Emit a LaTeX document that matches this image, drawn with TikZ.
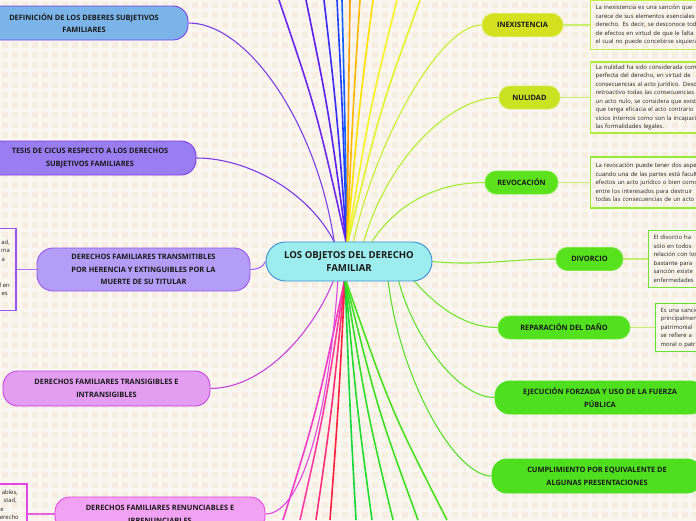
\documentclass[tikz,border=0pt]{standalone}
\usepackage{fontspec}
\setmainfont{Open Sans}
\definecolor{bgc}{HTML}{F6EEE1}
\definecolor{gridc}{HTML}{FBF7F0}
\definecolor{ctrF}{HTML}{9EEDEE}
\definecolor{ctrB}{HTML}{3A8ED4}
\definecolor{defF}{HTML}{7AB4E8}
\definecolor{defB}{HTML}{7B3FE8}
\definecolor{tesF}{HTML}{9B7DF2}
\definecolor{tesB}{HTML}{7A3CE6}
\definecolor{traF}{HTML}{B39DF6}
\definecolor{traB}{HTML}{9A55F0}
\definecolor{tgF}{HTML}{E39EF2}
\definecolor{tgB}{HTML}{C443E2}
\definecolor{reF}{HTML}{F2A2F2}
\definecolor{reB}{HTML}{E245E6}
\definecolor{inF}{HTML}{D4E11E}
\definecolor{inB}{HTML}{D9EC55}
\definecolor{nuF}{HTML}{CBE222}
\definecolor{nuB}{HTML}{D2EC50}
\definecolor{rvF}{HTML}{5BE21C}
\definecolor{rvB}{HTML}{78EA42}
\definecolor{dvF}{HTML}{58E21E}
\definecolor{rpF}{HTML}{52E11E}
\definecolor{ejF}{HTML}{4EE01E}
\definecolor{cInB}{HTML}{BEF040}
\definecolor{cNuB}{HTML}{AEEE38}
\definecolor{cRvB}{HTML}{96EC34}
\definecolor{cDvB}{HTML}{72E632}
\definecolor{cRpB}{HTML}{62E230}
\definecolor{tA}{HTML}{6A28F0}
\definecolor{tB}{HTML}{5A20F0}
\definecolor{tC}{HTML}{3A2CF8}
\definecolor{tD}{HTML}{2040FF}
\definecolor{tE}{HTML}{1062FF}
\definecolor{tF}{HTML}{FF9A00}
\definecolor{tG}{HTML}{FFB800}
\definecolor{tH}{HTML}{FFE000}
\definecolor{tI}{HTML}{F6F422}
\definecolor{tJ}{HTML}{E2F42A}
\definecolor{bA}{HTML}{F03CC8}
\definecolor{bB}{HTML}{FF3CA0}
\definecolor{bC}{HTML}{FF2E78}
\definecolor{bD}{HTML}{FF2040}
\definecolor{bE}{HTML}{14D83A}
\definecolor{bF}{HTML}{22DC30}
\definecolor{bG}{HTML}{32DE28}
\definecolor{bH}{HTML}{3EE024}
\definecolor{bI}{HTML}{4AE020}
\definecolor{kDef}{HTML}{7B3FE8}
\definecolor{kTes}{HTML}{7A3CE6}
\definecolor{kTra}{HTML}{A060F0}
\definecolor{kTra2}{HTML}{B070F2}
\definecolor{kTg}{HTML}{C444E2}
\definecolor{kRe}{HTML}{E044E2}
\definecolor{kRe2}{HTML}{E860E8}
\definecolor{kIn}{HTML}{C8EE30}
\definecolor{kNu}{HTML}{B8EE30}
\definecolor{kRv}{HTML}{A0EC30}
\definecolor{kDv}{HTML}{84E830}
\definecolor{kRp}{HTML}{72E430}
\definecolor{kEj}{HTML}{62E030}
\definecolor{kCu}{HTML}{5ADE30}
\definecolor{kSm}{HTML}{C8F070}
\pgfdeclarelayer{back}
\pgfdeclarelayer{mid}
\pgfsetlayers{back,mid,main}
\begin{document}
\begin{tikzpicture}[x=1pt,y=-1pt,
  nodetext/.style={font=\fontsize{7.4}{12.8}\selectfont\bfseries, align=center, text=black!90, line width=0.9pt, inner sep=0pt},
  pill/.style={nodetext, minimum height=23, rounded corners=11.5},
  bigbox/.style={nodetext, rounded corners=12},
  tbox/.style={font=\fontsize{5.9}{8.5}\selectfont, align=left, text=black!85, line width=1.3pt, inner xsep=5pt, inner ysep=0pt, text width=200pt, anchor=west},
  lbox/.style={line width=1.3pt, inner sep=0pt},
  frag/.style={font=\fontsize{5.9}{8.5}\selectfont, text=black!85, inner sep=0pt, anchor=base east},
  conn/.style={line width=1.1pt},
  rad/.style={line width=1.6pt}
]
\begin{pgfonlayer}{back}
\fill[bgc] (0,0) rectangle (696,520);
\foreach \g in {0,10,...,700} {\draw[gridc, line width=3.5pt] (\g,0) -- (\g,520);}
\foreach \g in {0,10,...,520} {\draw[gridc, line width=3.5pt] (0,\g) -- (696,\g);}
\end{pgfonlayer}

% nodes
\node[nodetext, font=\fontsize{9.6}{13.5}\selectfont\bfseries, fill=ctrF, draw=ctrB, minimum width=166, minimum height=39, rounded corners=19.5] (ctr) at (349,261.5) {LOS OBJETOS DEL DERECHO\\FAMILIAR};

\node[bigbox, fill=defF, draw=defB, minimum width=208, minimum height=34, rounded corners=15] (def) at (84,23) {DEFINICIÓN DE LOS DEBERES SUBJETIVOS\\FAMILIARES};
\node[bigbox, fill=tesF, draw=tesB, minimum width=212, minimum height=34, rounded corners=15] (tes) at (90,158) {TESIS DE CICUS RESPECTO A LOS DERECHOS\\SUBJETIVOS FAMILIARES};
\node[bigbox, fill=traF, draw=traB, minimum width=213, minimum height=43, rounded corners=16] (tra) at (143.5,269.5) {DERECHOS FAMILIARES TRANSMITIBLES\\POR HERENCIA Y EXTINGUIBLES POR LA\\MUERTE DE SU TITULAR};
\node[bigbox, fill=tgF, draw=tgB, minimum width=207, minimum height=35, rounded corners=15] (tg) at (106.5,388.5) {DERECHOS FAMILIARES TRANSIGIBLES E\\INTRANSIGIBLES};
\node[bigbox, fill=reF, draw=reB, minimum width=210, minimum height=34, rounded corners=15] (re) at (160,514) {DERECHOS FAMILIARES RENUNCIABLES E\\IRRENUNCIABLES};

\node[lbox, draw=traB, minimum width=36, minimum height=82] (traT) at (-2,269.5) {};
\node[frag] (tf1) at (10,244) {ad,};
\node[frag] (tf2) at (10,252.5) {ma};
\node[frag] (tf3) at (5,261) {a};
\node[frag] (tf4) at (10,287) {l en};
\node[frag] (tf5) at (8,295.5) {es};
\node[lbox, draw=reB, minimum width=48, minimum height=60] (reT) at (3,514) {};
\node[frag] (rf1) at (18,494) {ables,};
\node[frag] (rf2) at (17,502.5) {stad,};
\node[frag] (rf3) at (4,511) {e};
\node[frag] (rf4) at (19,519.5) {erecho};

\node[pill, fill=inF, draw=inB, minimum width=81] (inx) at (522.5,25) {INEXISTENCIA};
\node[pill, fill=nuF, draw=nuB, minimum width=61] (nul) at (529.5,97.5) {NULIDAD};
\node[pill, fill=rvF, draw=rvB, minimum width=73] (rev) at (521.5,182.5) {REVOCACIÓN};
\node[pill, fill=dvF, draw=rvB, minimum width=67] (div) at (589.5,259) {DIVORCIO};
\node[pill, fill=rpF, draw=rvB, minimum width=132] (rep) at (564,327.5) {REPARACIÓN DEL DAÑO};
\node[bigbox, fill=ejF, draw=ejF, minimum width=210, minimum height=33, rounded corners=15] (eje) at (600,397.5) {EJECUCIÓN FORZADA Y USO DE LA FUERZA\\PÚBLICA};
\node[bigbox, fill=ejF, draw=ejF, minimum width=210, minimum height=34, rounded corners=15] (cum) at (597,476) {CUMPLIMIENTO POR EQUIVALENTE DE\\ALGUNAS PRESENTACIONES};

\node[tbox, draw=cInB, minimum height=49] (inxT) at (590,25) {La inexistencia es una sanción que\\carece de sus elementos esenciales\\derecho. Es decir, se desconoce todo\\de efectos en virtud de que le falta\\el cual no puede concebirse siquiera};
\node[tbox, draw=cNuB, minimum height=71] (nulT) at (590,97.5) {La nulidad ha sido considerada como\\perfecta del derecho, en virtud de\\consecuencias al acto jurídico. Desde\\retroactivo todas las consecuencias\\un acto nulo, se considera que existe\\que tenga eficacia el acto contrario\\vicios internos como son la incapacidad\\las formalidades legales.};
\node[tbox, draw=cRvB, minimum height=51] (revT) at (590,182.5) {La revocación puede tener dos aspectos\\cuando una de las partes está facultada\\efectos un acto jurídico o bien como\\entre los interesados para destruir\\todas las consecuencias de un acto};
\node[tbox, draw=cDvB, minimum height=57] (divT) at (648,259) {El divorcio ha\\sólo en todos\\relación con los\\bastante para\\sanción existe\\enfermedades};
\node[tbox, draw=cRpB, minimum height=48] (repT) at (655,327.5) {Es una sanción\\principalmente\\patrimonial\\se refiere a\\moral o patrimonial};

% connectors behind nodes
\begin{pgfonlayer}{mid}
\coordinate (ctop) at (347,246);
\coordinate (cbot) at (345,278);
\foreach \xx/\cc in {279/tA,306/tB,324/tC,337/tD,342/tE,350/tF,360/tG,373/tH,397/tI,420/tJ} {
  \coordinate (t\xx) at (\xx,0);
  \pgfmathsetmacro\cx{\xx+(347-\xx)*0.55}
  \draw[rad,\cc] (ctop) .. controls (\cx,110) .. (t\xx);
}
\foreach \xx/\cc in {283/bA,300/bB,316/bC,330/bD,356/bE,372/bF,393/bG,418/bH,447/bI} {
  \coordinate (b\xx) at (\xx,520);
  \pgfmathsetmacro\cx{\xx+(345-\xx)*0.55}
  \draw[rad,\cc] (cbot) .. controls (\cx,410) .. (b\xx);
}
\coordinate (eDef) at (335,248);
\coordinate (eTes) at (338,250);
\coordinate (eTg) at (335,276);
\coordinate (eRe) at (338,278);
\coordinate (eIn) at (352,248);
\coordinate (eNu) at (362,248);
\coordinate (eRv) at (368,248);
\coordinate (eRp) at (410,276);
\coordinate (eEj) at (398,278);
\coordinate (eCu) at (388,280);
\draw[conn,kDef] (def.east) .. controls (250,23) and (320,130) .. (eDef);
\draw[conn,kTes] (tes.east) .. controls (250,158) and (315,195) .. (eTes);
\draw[conn,kTra] (tra.east) .. controls (258,269) and (262,268) .. (ctr.west);
\draw[conn,kTra2] (tra.west) -- (traT.east);
\draw[conn,kTg] (tg.east) .. controls (270,388) and (320,320) .. (eTg);
\draw[conn,kRe] (re.east) .. controls (305,514) and (330,400) .. (eRe);
\draw[conn,kRe2] (re.west) -- (reT.east);
\draw[conn,kIn] (inx.west) .. controls (440,25) and (375,140) .. (eIn);
\draw[conn,kNu] (nul.west) .. controls (450,97.5) and (385,160) .. (eNu);
\draw[conn,kRv] (rev.west) .. controls (430,182.5) and (390,210) .. (eRv);
\draw[conn,kDv] (ctr.east) .. controls (480,266) and (510,259) .. (div.west);
\draw[conn,kRp] (rep.west) .. controls (460,327.5) and (430,300) .. (eRp);
\draw[conn,kEj] (eje.west) .. controls (455,397.5) and (410,330) .. (eEj);
\draw[conn,kCu] (cum.west) .. controls (455,476) and (400,380) .. (eCu);
\draw[conn,kSm] (inx.east) -- (inxT.west);
\draw[conn,kSm] (nul.east) -- (nulT.west);
\draw[conn,kSm] (rev.east) -- (revT.west);
\draw[conn,kSm] (div.east) -- (divT.west);
\draw[conn,kSm] (rep.east) -- (repT.west);
\end{pgfonlayer}
\pgfresetboundingbox
\useasboundingbox (0,0) rectangle (696,520);
\end{tikzpicture}
\end{document}
